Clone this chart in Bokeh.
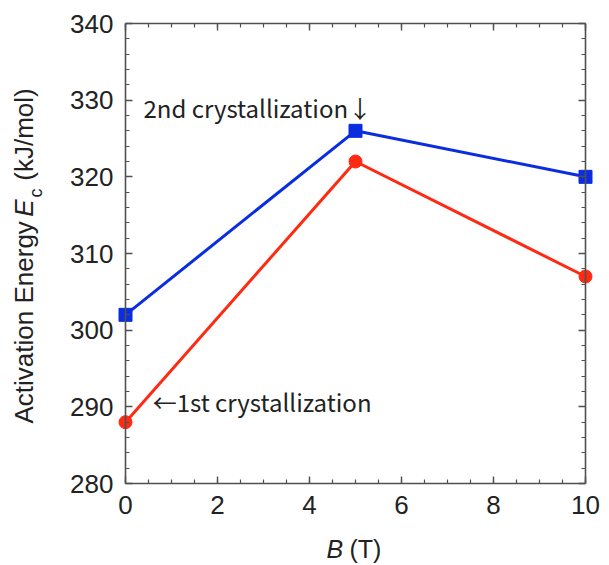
from bokeh.plotting import figure
from bokeh.models import Range1d, LinearAxis, SingleIntervalTicker, Label
from bokeh.embed import file_html
from bokeh.resources import INLINE
import math

# Data
field_T = [0, 5, 10]
second_cryst = [302, 326, 320]   # blue squares
first_cryst = [288, 322, 307]    # red circles

x_lo, x_hi = 0, 10
y_lo, y_hi = 280, 340
x_ticks_interval = 2
y_ticks_interval = 10

BLUE = "#0a2de0"
RED = "#ff2a12"
AXC = "#505050"
TXT = "#222222"
FONT = "Liberation Sans"
JFONT = "Noto Sans CJK JP"

# Canvas layout: the data box occupies pixels 125..585 (x) and 23..483 (y)
W, H = 609, 565
BX0, BX1, BY0, BY1 = 125, 585, 23, 483
sx = (BX1 - BX0) / (x_hi - x_lo)
sy = (BY1 - BY0) / (y_hi - y_lo)
x_range = Range1d(x_lo - BX0 / sx, x_hi + (W - BX1) / sx)
y_range = Range1d(y_lo - (H - BY1) / sy, y_hi + BY0 / sy)

p = figure(width=W, height=H, output_backend="svg", toolbar_location=None,
           x_range=x_range, y_range=y_range,
           min_border=0, min_border_left=0, min_border_right=0,
           min_border_top=0, min_border_bottom=0,
           x_axis_location=None, y_axis_location=None)
p.grid.visible = False
p.outline_line_color = None
p.background_fill_color = "white"
p.border_fill_color = "white"

def style_axis(ax, labels=True):
    ax.axis_line_color = AXC
    ax.axis_line_width = 1.6
    ax.major_tick_line_color = AXC
    ax.minor_tick_line_color = AXC
    ax.major_tick_line_width = 1.4
    ax.minor_tick_line_width = 1.2
    ax.major_tick_in = 7
    ax.major_tick_out = 0
    ax.minor_tick_in = 4
    ax.minor_tick_out = 0
    ax.major_label_text_font = FONT
    ax.major_label_text_font_size = "26px"
    ax.major_label_text_color = TXT
    if not labels:
        ax.major_label_text_color = None
        ax.major_label_text_font_size = "0px"
        ax.major_label_standoff = 0

xt = lambda: SingleIntervalTicker(interval=x_ticks_interval, num_minor_ticks=4)
yt = lambda: SingleIntervalTicker(interval=y_ticks_interval, num_minor_ticks=5)

bottom = LinearAxis(ticker=xt(), fixed_location=y_lo, bounds=(x_lo, x_hi))
style_axis(bottom)
bottom.major_label_standoff = 12
p.add_layout(bottom, "below")

left = LinearAxis(ticker=yt(), fixed_location=x_lo, bounds=(y_lo, y_hi))
style_axis(left)
left.major_label_standoff = 12
p.add_layout(left, "left")

top = LinearAxis(ticker=xt(), fixed_location=y_hi, bounds=(x_lo, x_hi))
style_axis(top, labels=False)
p.add_layout(top, "above")

right = LinearAxis(ticker=yt(), fixed_location=x_hi, bounds=(y_lo, y_hi))
style_axis(right, labels=False)
p.add_layout(right, "right")

# Series
p.line(field_T, second_cryst, line_color=BLUE, line_width=3)
p.scatter(field_T, second_cryst, marker="square", size=13, fill_color=BLUE, line_color=BLUE)
p.line(field_T, first_cryst, line_color=RED, line_width=3)
p.scatter(field_T, first_cryst, marker="circle", size=13, fill_color=RED, line_color=RED)

# Annotations
p.add_layout(Label(x=0.39, y=329.1, text="2nd crystallization\u2193", text_font=JFONT,
                   text_font_size="24px", text_baseline="middle", text_color=TXT))
p.add_layout(Label(x=0.59, y=290.7, text="\u21901st crystallization", text_font=JFONT,
                   text_font_size="24px", text_baseline="middle", text_color=TXT))

# Y axis title (composite: italic E with subscript c)
ylab = dict(angle=math.pi / 2, text_baseline="middle", text_align="left",
            text_color=TXT, text_font=FONT)
p.add_layout(Label(x=-2.21, y=287.83, text="Activation Energy", text_font_size="26px", **ylab))
p.add_layout(Label(x=-2.21, y=314.8, text="E", text_font_size="26px", text_font_style="italic", **ylab))
p.add_layout(Label(x=-1.95, y=317.3, text="c", text_font_size="18px", **ylab))
p.add_layout(Label(x=-2.21, y=319.5, text="(kJ/mol)", text_font_size="26px", **ylab))

# X axis title
xlab = dict(text_baseline="middle", text_align="left", text_color=TXT,
            text_font=FONT, text_font_size="25px")
p.add_layout(Label(x=4.37, y=271.4, text="B", text_font_style="italic", **xlab))
p.add_layout(Label(x=4.87, y=271.4, text="(T)", **xlab))

open("out.html", "w").write(file_html(p, INLINE))
